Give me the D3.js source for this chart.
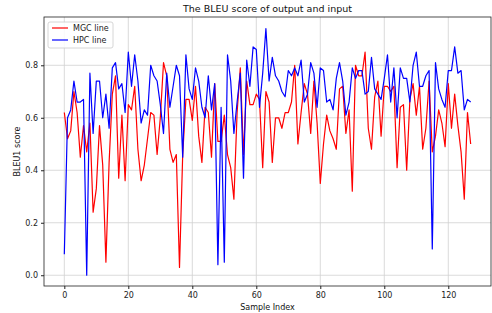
<!DOCTYPE html>
<html>
<head>
<meta charset="utf-8">
<script src="https://d3js.org/d3.v7.min.js"></script>
<style>
  body { margin: 0; background: #fff; font-family: "DejaVu Sans", sans-serif; }
  .grid line { stroke: #d0d0d0; stroke-width: 0.8; }
  .axis text { font-size: 8px; fill: #222; font-family: "DejaVu Sans", sans-serif; }
  .axis path, .axis line { stroke: #222; }
</style>
</head>
<body>
<svg width="492" height="313"></svg>
<script>
// BLEU1 scores, one per sample index 0..127
const mgcValues = [
  0.62, 0.52, 0.55, 0.70, 0.62, 0.45, 0.57, 0.47, 0.58, 0.24,
  0.33, 0.57, 0.42, 0.05, 0.43, 0.69, 0.76, 0.37, 0.61, 0.36,
  0.65, 0.63, 0.72, 0.48, 0.36, 0.42, 0.52, 0.62, 0.61, 0.46,
  0.60, 0.81, 0.76, 0.48, 0.43, 0.46, 0.03, 0.46, 0.67, 0.67,
  0.59, 0.72, 0.53, 0.43, 0.64, 0.62, 0.45, 0.73, 0.51, 0.51,
  0.61, 0.46, 0.41, 0.29, 0.62, 0.79, 0.46, 0.74, 0.65, 0.65,
  0.69, 0.67, 0.41, 0.70, 0.66, 0.43, 0.60, 0.60, 0.56, 0.62,
  0.62, 0.66, 0.80, 0.50, 0.62, 0.73, 0.69, 0.54, 0.74, 0.58,
  0.35, 0.50, 0.61, 0.55, 0.52, 0.48, 0.71, 0.72, 0.54, 0.63,
  0.32, 0.80, 0.76, 0.76, 0.85, 0.56, 0.48, 0.68, 0.74, 0.53,
  0.72, 0.72, 0.70, 0.72, 0.41, 0.64, 0.65, 0.40, 0.67, 0.73,
  0.61, 0.72, 0.48, 0.56, 0.74, 0.47, 0.53, 0.63, 0.58, 0.49,
  0.73, 0.56, 0.69, 0.57, 0.47, 0.29, 0.62, 0.50
];
const hpcValues = [
  0.08, 0.60, 0.63, 0.74, 0.66, 0.66, 0.67, 0.00, 0.77, 0.54,
  0.74, 0.74, 0.60, 0.69, 0.56, 0.79, 0.81, 0.71, 0.73, 0.62,
  0.85, 0.72, 0.84, 0.74, 0.58, 0.63, 0.61, 0.80, 0.76, 0.74,
  0.65, 0.54, 0.77, 0.64, 0.72, 0.80, 0.76, 0.45, 0.84, 0.71,
  0.67, 0.79, 0.74, 0.64, 0.60, 0.76, 0.63, 0.73, 0.04, 0.64,
  0.05, 0.84, 0.74, 0.54, 0.66, 0.77, 0.37, 0.82, 0.72, 0.87,
  0.86, 0.64, 0.77, 0.94, 0.74, 0.83, 0.76, 0.74, 0.70, 0.68,
  0.78, 0.76, 0.79, 0.76, 0.82, 0.66, 0.69, 0.81, 0.77, 0.64,
  0.79, 0.78, 0.66, 0.67, 0.63, 0.75, 0.81, 0.74, 0.61, 0.66,
  0.79, 0.75, 0.78, 0.78, 0.69, 0.70, 0.83, 0.71, 0.69, 0.67,
  0.75, 0.84, 0.66, 0.79, 0.60, 0.79, 0.75, 0.75, 0.66, 0.80,
  0.85, 0.72, 0.72, 0.76, 0.78, 0.10, 0.81, 0.71, 0.67, 0.64,
  0.78, 0.78, 0.87, 0.77, 0.78, 0.63, 0.67, 0.66
];
const seriesNames = ["MGC line", "HPC line"];
const seriesColors = ["red", "blue"];
const xTicks = [0, 20, 40, 60, 80, 100, 120];
const yTicks = [0.0, 0.2, 0.4, 0.6, 0.8];

const svg = d3.select("svg");
const m = { left: 44, right: 491, top: 17, bottom: 286 };

const x = d3.scaleLinear().domain([-6.35, 133.35]).range([m.left, m.right]);
const y = d3.scaleLinear().domain([-0.041, 0.984]).range([m.bottom, m.top]);

// grid
const grid = svg.append("g").attr("class", "grid");
grid.selectAll(".gx").data(xTicks).join("line")
  .attr("x1", d => x(d)).attr("x2", d => x(d))
  .attr("y1", m.top).attr("y2", m.bottom);
grid.selectAll(".gy").data(yTicks).join("line")
  .attr("x1", m.left).attr("x2", m.right)
  .attr("y1", d => y(d)).attr("y2", d => y(d));

// lines
const line = d3.line().x((d, i) => x(i)).y(d => y(d));
[mgcValues, hpcValues].forEach((vals, k) => {
  svg.append("path")
    .datum(vals)
    .attr("fill", "none")
    .attr("stroke", seriesColors[k])
    .attr("stroke-width", 1.2)
    .attr("stroke-linejoin", "round")
    .attr("d", line);
});

// axes
svg.append("g").attr("class", "axis")
  .attr("transform", `translate(0,${m.bottom})`)
  .call(d3.axisBottom(x).tickValues(xTicks).tickSize(3).tickPadding(3))
  .call(g => g.select(".domain").remove());
svg.append("g").attr("class", "axis")
  .attr("transform", `translate(${m.left},0)`)
  .call(d3.axisLeft(y).tickValues(yTicks).tickFormat(d3.format(".1f")).tickSize(3).tickPadding(3))
  .call(g => g.select(".domain").remove());

// frame
svg.append("rect")
  .attr("x", m.left).attr("y", m.top)
  .attr("width", m.right - m.left).attr("height", m.bottom - m.top)
  .attr("fill", "none").attr("stroke", "#222").attr("stroke-width", 0.8);

// titles
svg.append("text")
  .attr("x", (m.left + m.right) / 2).attr("y", 12)
  .attr("text-anchor", "middle")
  .attr("font-size", "9.5px").attr("fill", "#111")
  .text("The BLEU score of output and input");
svg.append("text")
  .attr("x", (m.left + m.right) / 2).attr("y", 310)
  .attr("text-anchor", "middle")
  .attr("font-size", "8px").attr("fill", "#111")
  .text("Sample Index");
svg.append("text")
  .attr("transform", `translate(20,${(m.top + m.bottom) / 2}) rotate(-90)`)
  .attr("text-anchor", "middle")
  .attr("font-size", "8px").attr("fill", "#111")
  .text("BLEU1 score");

// legend
const lg = svg.append("g").attr("transform", "translate(48,22)");
lg.append("rect")
  .attr("width", 65).attr("height", 26).attr("rx", 2)
  .attr("fill", "#fff").attr("fill-opacity", 0.85)
  .attr("stroke", "#ccc").attr("stroke-width", 0.8);
seriesNames.forEach((name, k) => {
  const yy = 6 + k * 12;
  lg.append("line")
    .attr("x1", 4).attr("x2", 20).attr("y1", yy).attr("y2", yy)
    .attr("stroke", seriesColors[k]).attr("stroke-width", 1.2);
  lg.append("text")
    .attr("x", 25).attr("y", yy + 3)
    .attr("font-size", "8px").attr("fill", "#222")
    .text(name);
});
</script>
</body>
</html>
